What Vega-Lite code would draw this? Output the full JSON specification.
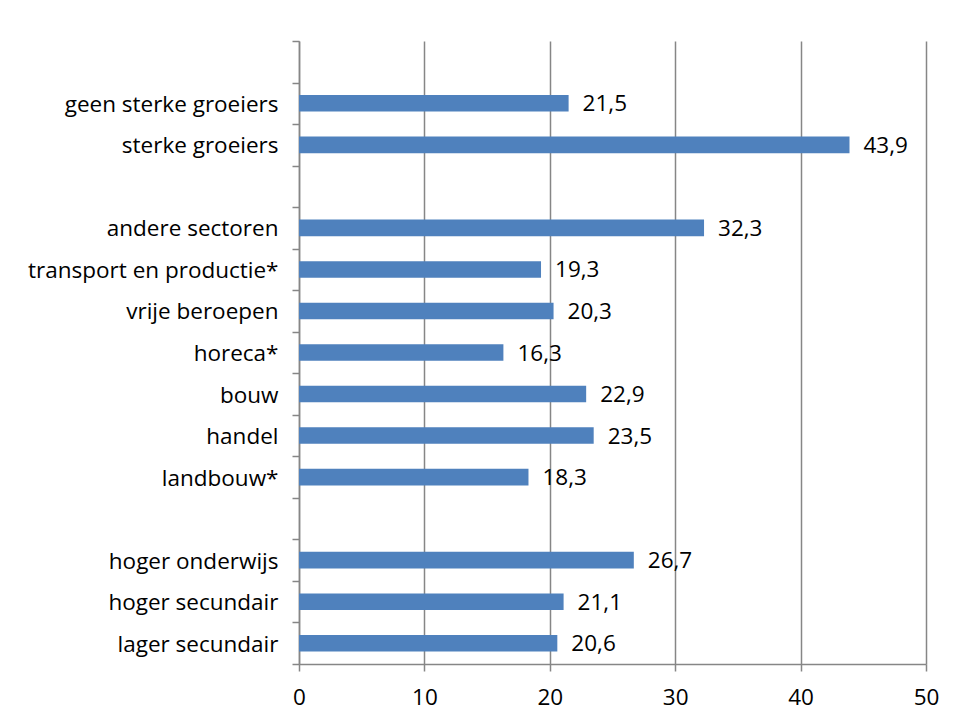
{
  "$schema": "https://vega.github.io/schema/vega-lite/v6.json",
  "autosize": {"type": "none"},
  "padding": {"left": 299, "top": 41, "right": 29, "bottom": 58},
  "width": 627,
  "height": 623,
  "background": "white",
  "config": {
    "view": {"stroke": null},
    "font": "Open Sans",
    "locale": {"number": {"decimal": ",", "thousands": ".", "grouping": [3], "currency": ["€", ""]}}
  },
  "data": {
    "values": [
      {"categorie": "geen sterke groeiers", "waarde": 21.5},
      {"categorie": "sterke groeiers", "waarde": 43.9},
      {"categorie": "andere sectoren", "waarde": 32.3},
      {"categorie": "transport en productie*", "waarde": 19.3},
      {"categorie": "vrije beroepen", "waarde": 20.3},
      {"categorie": "horeca*", "waarde": 16.3},
      {"categorie": "bouw", "waarde": 22.9},
      {"categorie": "handel", "waarde": 23.5},
      {"categorie": "landbouw*", "waarde": 18.3},
      {"categorie": "hoger onderwijs", "waarde": 26.7},
      {"categorie": "hoger secundair", "waarde": 21.1},
      {"categorie": "lager secundair", "waarde": 20.6}
    ]
  },
  "encoding": {
    "y": {
      "field": "categorie",
      "type": "nominal",
      "title": null,
      "scale": {
        "domain": [" ", "geen sterke groeiers", "sterke groeiers", "  ", "andere sectoren", "transport en productie*", "vrije beroepen", "horeca*", "bouw", "handel", "landbouw*", "   ", "hoger onderwijs", "hoger secundair", "lager secundair"],
        "paddingInner": 0,
        "paddingOuter": 0
      },
      "axis": {
        "tickBand": "extent",
        "tickSize": 7,
        "tickColor": "#868686",
        "tickWidth": 1.5,
        "domainColor": "#868686",
        "domainWidth": 1.5,
        "labelFontSize": 22.5,
        "labelColor": "black",
        "labelPadding": 14,
        "labelLimit": 400,
        "labelBaseline": "middle",
        "labelOffset": 1,
        "grid": false
      }
    },
    "x": {
      "field": "waarde",
      "type": "quantitative",
      "title": null,
      "scale": {"domain": [0, 50], "nice": false},
      "axis": {
        "values": [0, 10, 20, 30, 40, 50],
        "format": "d",
        "tickSize": 7,
        "tickColor": "#868686",
        "tickWidth": 1.5,
        "domainColor": "#868686",
        "domainWidth": 1.5,
        "gridColor": "#868686",
        "gridWidth": 1.5,
        "labelFontSize": 22.5,
        "labelColor": "black",
        "labelPadding": 15,
        "labelFlush": false
      }
    }
  },
  "layer": [
    {
      "mark": {"type": "bar", "color": "#4F81BD", "height": {"band": 0.4}}
    },
    {
      "mark": {"type": "text", "align": "left", "baseline": "middle", "dx": 14, "dy": 1, "fontSize": 22.5, "color": "black"},
      "encoding": {
        "text": {"field": "waarde", "type": "quantitative", "format": ".1f"}
      }
    }
  ]
}
